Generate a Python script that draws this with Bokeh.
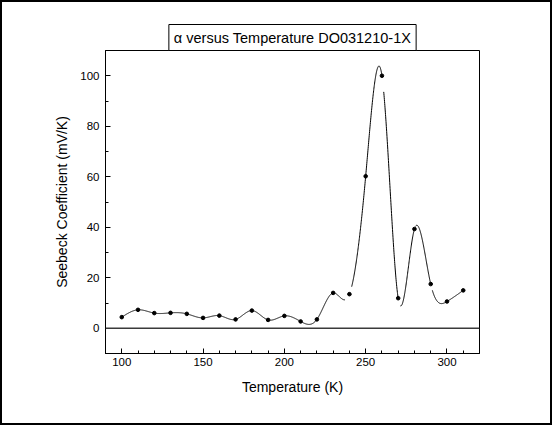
import numpy as np
from bokeh.plotting import figure
from bokeh.models import Range1d, SingleIntervalTicker, Span
from bokeh.embed import file_html
from bokeh.resources import INLINE

# ---- data ----
temperature = [100, 110, 120, 130, 140, 150, 160, 170, 180, 190, 200,
               210, 220, 230, 240, 250, 260, 270, 280, 290, 300, 310]
seebeck = [4.4, 7.3, 6.0, 6.1, 5.7, 4.1, 5.0, 3.5, 7.0, 3.3, 4.9,
           2.7, 3.5, 14.0, 13.5, 60.2, 100.0, 11.9, 39.3, 17.5, 10.6, 15.0]
# breaks visible in the drawn spline (temperature intervals)
curve_gaps = [(237.3, 241.4), (260.0, 261.1),
              (270.2, 271.3), (279.8, 280.6), (290.0, 291.0)]
title_text = "\u03b1 versus Temperature DO031210-1X"
x_label = "Temperature (K)"
y_label = "Seebeck Coefficient (mV/K)"


def natural_spline(x, y, xs):
    x = np.asarray(x, float)
    y = np.asarray(y, float)
    n = len(x)
    h = np.diff(x)
    A = np.zeros((n, n))
    b = np.zeros(n)
    A[0, 0] = A[-1, -1] = 1.0
    for i in range(1, n - 1):
        A[i, i - 1] = h[i - 1]
        A[i, i] = 2 * (h[i - 1] + h[i])
        A[i, i + 1] = h[i]
        b[i] = 3 * ((y[i + 1] - y[i]) / h[i] - (y[i] - y[i - 1]) / h[i - 1])
    c = np.linalg.solve(A, b)
    bc = (y[1:] - y[:-1]) / h - h * (2 * c[:-1] + c[1:]) / 3
    d = (c[1:] - c[:-1]) / (3 * h)
    idx = np.clip(np.searchsorted(x, xs, side="right") - 1, 0, n - 2)
    dx = xs - x[idx]
    return y[idx] + bc[idx] * dx + c[idx] * dx ** 2 + d[idx] * dx ** 3


xs = np.linspace(min(temperature), max(temperature), 2101)
ys = natural_spline(temperature, seebeck, xs)
for a, b in curve_gaps:
    ys[(xs > a) & (xs < b)] = np.nan

FONT = "Liberation Sans"
BW = 2            # outer border width (css)
W, H = 552 - 2 * BW, 425 - 2 * BW

p = figure(frame_width=374, frame_height=303,
           x_range=Range1d(90, 320), y_range=Range1d(-10, 110),
           output_backend="svg", toolbar_location=None,
           min_border_left=105 - BW, min_border_right=W - (479 - BW),
           min_border_top=50 - BW, min_border_bottom=H - (353 - BW),
           background_fill_color="white", border_fill_color="white",
           outline_line_color="black", outline_line_width=1)
p.styles = {"border": "%dpx solid black" % BW, "box-sizing": "content-box"}
p.grid.visible = False

p.title.text = title_text
p.title.align = "center"
p.title.offset = 3
p.title.standoff = 0
p.title.text_font = FONT
p.title.text_font_size = "14.5px"
p.title.text_font_style = "normal"
p.title.text_color = "black"
p.title.border_line_color = "black"
p.title.border_line_width = 1
p.title.background_fill_color = "white"
p.title.padding = 5

p.xaxis.ticker = SingleIntervalTicker(interval=50, num_minor_ticks=5)
p.yaxis.ticker = SingleIntervalTicker(interval=20, num_minor_ticks=2)
for ax in (p.xaxis, p.yaxis):
    ax.major_tick_in = 5
    ax.major_tick_out = 0
    ax.minor_tick_in = 3
    ax.minor_tick_out = 0
    ax.axis_line_color = "black"
    ax.major_tick_line_color = "black"
    ax.minor_tick_line_color = "black"
    ax.major_label_text_font = FONT
    ax.major_label_text_font_size = "11.5px"
    ax.major_label_text_color = "black"
    ax.axis_label_text_font = FONT
    ax.axis_label_text_font_size = "14px"
    ax.axis_label_text_font_style = "normal"
    ax.axis_label_text_color = "black"
p.xaxis.axis_label = x_label
p.yaxis.axis_label = y_label
p.xaxis.major_label_standoff = 4
p.yaxis.major_label_standoff = 6
p.xaxis.axis_label_standoff = 10
p.yaxis.axis_label_standoff = 7

p.add_layout(Span(location=0, dimension="width", line_color="#3a3a3a", line_width=1.6))

p.line(xs, ys, line_color="black", line_width=1)
p.scatter(temperature, seebeck, size=3.6, marker="circle", fill_color="black", line_color="black")

open("out.html", "w").write(file_html(p, INLINE))
